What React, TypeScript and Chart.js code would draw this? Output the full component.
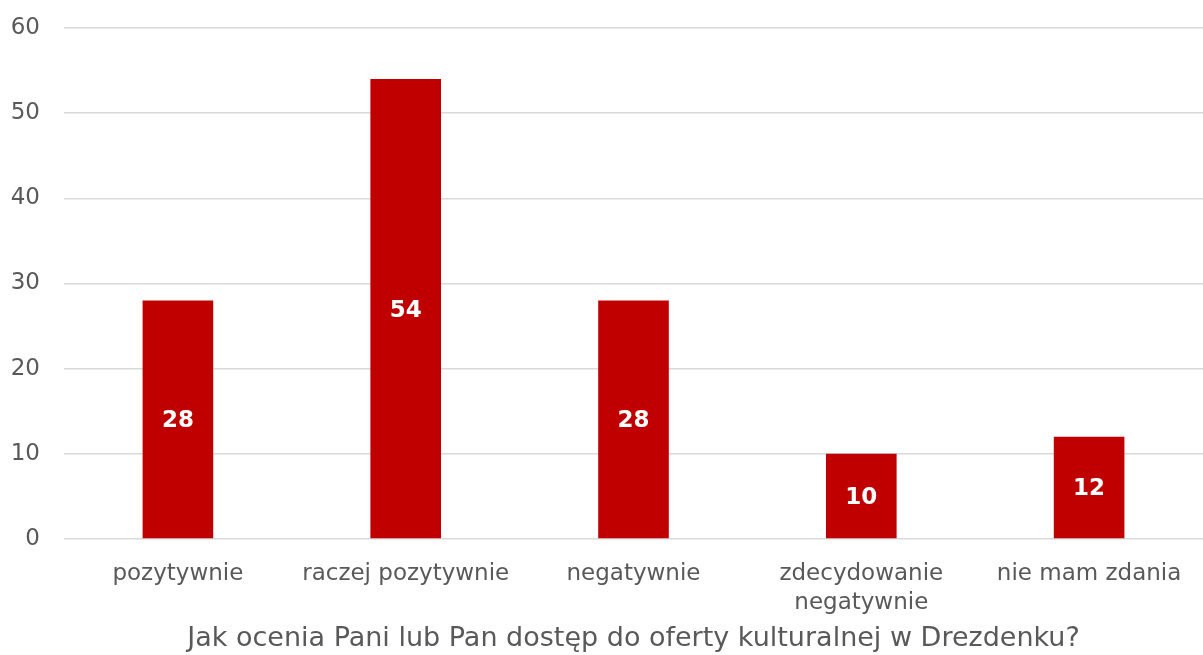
import React, { useEffect, useRef } from "react";
import { Chart, registerables } from "chart.js";

Chart.register(...registerables);

const categories: (string | string[])[] = [
  "pozytywnie",
  "raczej pozytywnie",
  "negatywnie",
  ["zdecydowanie", "negatywnie"],
  "nie mam zdania",
];
const values: number[] = [28, 54, 28, 10, 12];
const yTicks: number[] = [0, 10, 20, 30, 40, 50, 60];
const axisTitle = "Jak ocenia Pani lub Pan dostęp do oferty kulturalnej w Drezdenku?";

const FONT = "'DejaVu Sans', Verdana, sans-serif";

const barLabels = {
  id: "barLabels",
  afterDatasetsDraw(chart: any) {
    const ctx = chart.ctx;
    const meta = chart.getDatasetMeta(0);
    ctx.save();
    ctx.fillStyle = "#ffffff";
    ctx.font = `bold 23px ${FONT}`;
    ctx.textAlign = "center";
    ctx.textBaseline = "middle";
    meta.data.forEach((bar: any, i: number) => {
      const y = (bar.y + bar.base) / 2;
      ctx.fillText(String(values[i]), bar.x, y + 2);
    });
    ctx.restore();
  },
};

export default function App() {
  const ref = useRef<HTMLCanvasElement | null>(null);
  useEffect(() => {
    document.body.style.margin = "0";
    const chart = new Chart(ref.current as HTMLCanvasElement, {
      type: "bar",
      data: {
        labels: categories,
        datasets: [
          {
            data: values,
            backgroundColor: "#C00000",
            barPercentage: 0.62,
            categoryPercentage: 0.5,
          },
        ],
      },
      options: {
        animation: false,
        responsive: false,
        layout: { padding: { left: 0, right: 0, top: 0, bottom: 0 } },
        plugins: { legend: { display: false }, tooltip: { enabled: false } },
        scales: {
          x: {
            grid: { display: false },
            border: { display: false },
            ticks: {
              color: "#595959",
              font: { family: FONT, size: 23, lineHeight: 1.25 },
              maxRotation: 0,
              autoSkip: false,
              padding: 13,
            },
            title: {
              display: true,
              text: axisTitle,
              color: "#595959",
              font: { family: FONT, size: 27 },
              padding: { top: 0, bottom: 0 },
            },
            afterFit: (axis: any) => {
              axis.height = 655 - 539;
            },
          },
          y: {
            min: 0,
            max: 60,
            afterBuildTicks: (axis: any) => {
              axis.ticks = yTicks.map((v) => ({ value: v }));
            },
            afterFit: (axis: any) => {
              axis.width = 64;
              axis.paddingTop = 28;
              axis.paddingBottom = 0;
            },
            grid: { color: "#d9d9d9", lineWidth: 1.5, drawTicks: false },
            border: { display: false },
            ticks: {
              color: "#595959",
              font: { family: FONT, size: 23 },
              padding: 24,
            },
          },
        },
      },
      plugins: [barLabels],
    });
    return () => chart.destroy();
  }, []);
  return (
    <div style={{ width: 1203, height: 655 }}>
      <canvas ref={ref} width={1203} height={655} />
    </div>
  );
}
